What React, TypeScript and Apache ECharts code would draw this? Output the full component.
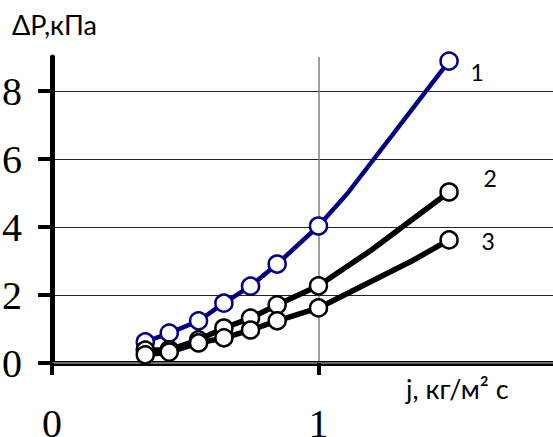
import React, { useEffect, useRef } from "react";
import * as echarts from "echarts";

// measured points (with markers) and unmarked intermediate points of the curves
const j1 = [0.35, 0.44, 0.55, 0.645, 0.745, 0.845, 1.0, 1.11, 1.49];
const dp1 = [0.62, 0.88, 1.24, 1.76, 2.26, 2.91, 4.03, 5.0, 8.88];
const j2 = [0.35, 0.44, 0.55, 0.645, 0.745, 0.845, 1.0, 1.2, 1.49];
const dp2 = [0.38, 0.39, 0.68, 1.03, 1.32, 1.71, 2.27, 3.33, 5.03];
const j3 = [0.35, 0.44, 0.55, 0.645, 0.745, 0.845, 1.0, 1.35, 1.49];
const dp3 = [0.24, 0.32, 0.59, 0.74, 0.97, 1.24, 1.62, 3.0, 3.62];
const hiddenIdx = [7]; // points without markers
const seriesNames = ["1", "2", "3"];
const yTicks = [0, 2, 4, 6, 8];
const xTicks = [0, 1];

const labelOffsets: [number, number][] = [
  [28, 11],
  [41, -14],
  [39, 1],
];

function buildData(xs: number[], ys: number[], name: string, off: [number, number]) {
  return xs.map((x, i) => {
    const item: any = { value: [x, ys[i]] };
    if (hiddenIdx.includes(i)) item.symbol = "none";
    if (i === xs.length - 1) {
      item.label = {
        show: true,
        formatter: name,
        position: "inside",
        offset: off,
        fontFamily: "Lato",
        fontSize: 23,
        color: "#000",
      };
    }
    return item;
  });
}

export default function App() {
  const ref = useRef<HTMLDivElement>(null);
  useEffect(() => {
    if (!ref.current) return;
    const chart = echarts.init(ref.current, undefined, { renderer: "svg" });
    const colors = ["#000080", "#000000", "#000000"];
    const lineWidths = [4.5, 5.5, 5.5];
    const sets = [
      [j1, dp1],
      [j2, dp2],
      [j3, dp3],
    ];
    chart.setOption({
      animation: false,
      grid: { left: 52, top: 57, bottom: 74, right: 0, outerBoundsMode: "none", containLabel: false },
      xAxis: [
        {
          type: "value",
          min: 0,
          max: 1.88,
          axisLine: { show: true, onZero: false, lineStyle: { color: "#000", width: 5 } },
          axisTick: {
            show: true,
            customValues: xTicks,
            length: 12,
            lineStyle: { color: "#000", width: 4 },
          },
          axisLabel: {
            customValues: xTicks,
            margin: 40,
            fontFamily: "Liberation Serif",
            fontSize: 40,
            color: "#000",
          },
          splitLine: { show: true, lineStyle: { color: "#808080", width: 1.5 } },
        },
        {
          type: "value",
          position: "top",
          min: 0,
          max: 1.88,
          axisLine: { show: true, lineStyle: { color: "#8a8a8a", width: 1.5 } },
          axisTick: { show: false },
          axisLabel: { show: false },
          splitLine: { show: false },
        },
      ],
      yAxis: {
        type: "value",
        min: 0,
        max: 9,
        interval: 1,
        axisLine: { show: true, lineStyle: { color: "#000", width: 5 } },
        axisTick: {
          show: true,
          customValues: yTicks,
          length: 14,
          lineStyle: { color: "#000", width: 4 },
        },
        axisLabel: {
          customValues: yTicks,
          margin: 30,
          fontFamily: "Liberation Serif",
          fontSize: 40,
          color: "#000",
        },
        splitLine: { show: true, lineStyle: { color: "#222", width: 1 } },
      },
      graphic: [
        {
          type: "text",
          left: 12,
          top: 11,
          style: {
            text: "ΔP,кПа",
            font: '27px "Lato"',
            fill: "#000",
          },
        },
        {
          type: "text",
          left: 406,
          top: 375,
          style: {
            text: "j, кг/м² с",
            font: '27px "Lato"',
            fill: "#000",
          },
        },
      ],
      series: sets.map((s, k) => ({
        type: "line",
        name: seriesNames[k],
        xAxisIndex: 0,
        data: buildData(s[0], s[1], seriesNames[k], labelOffsets[k]),
        symbol: "circle",
        symbolSize: 17,
        showAllSymbol: true,
        lineStyle: { color: colors[k], width: lineWidths[k] },
        itemStyle: { color: "#fff", borderColor: colors[k], borderWidth: 2.5 },
        z: 3 + k,
      })),
    });
    return () => chart.dispose();
  }, []);
  return (
    <div
      ref={ref}
      style={{ position: "absolute", left: 0, top: 0, width: 553, height: 437 }}
    />
  );
}
